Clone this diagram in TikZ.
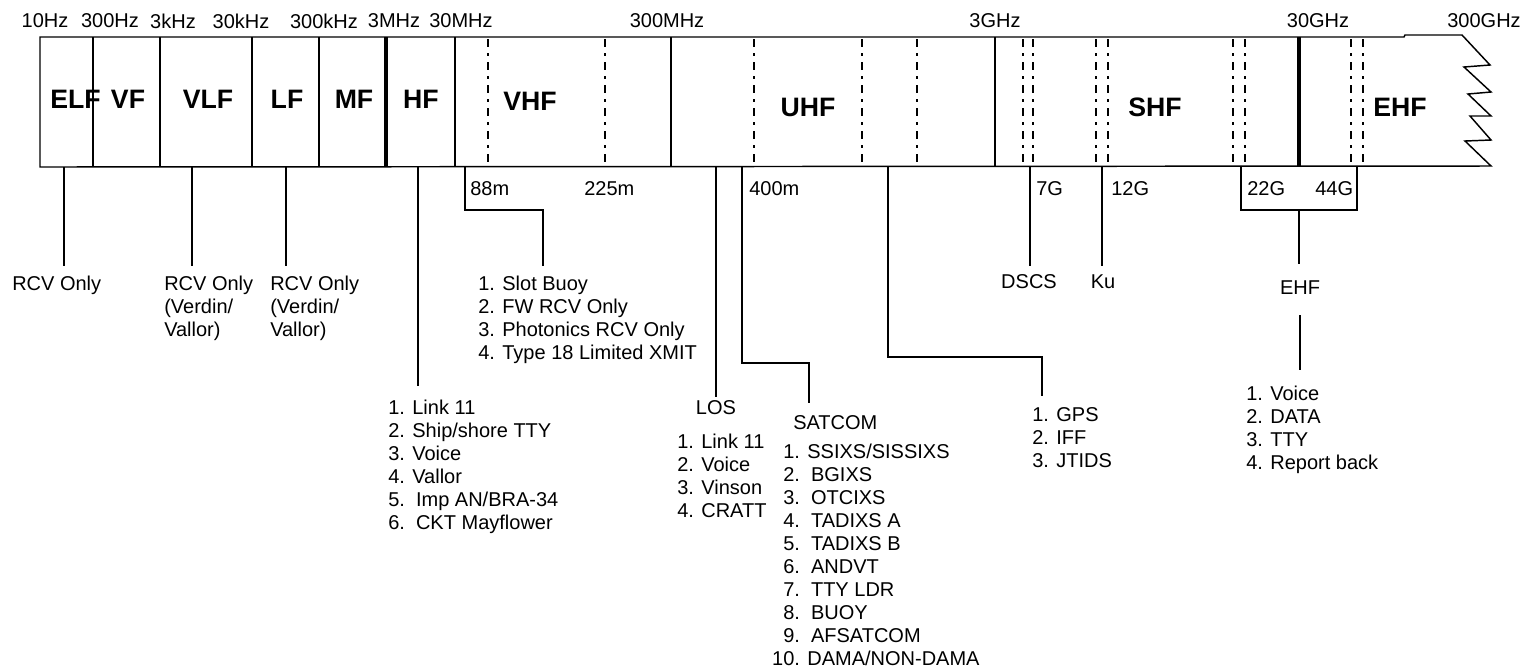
\documentclass[tikz,border=0pt]{standalone}
\usepackage{fontspec}
\setmainfont{Liberation Sans}
\tikzset{
  freqlabel/.style={font=\fontsize{15pt}{17.25pt}\selectfont, inner sep=0pt},
  bandlabel/.style={font=\fontsize{20pt}{24pt}\selectfont\bfseries, inner sep=0pt},
  uselist/.style={freqlabel, align=left, anchor=north west},
  wire/.style={line width=1.1pt},
  thickwire/.style={line width=2.3pt},
  dashcut/.style={line width=0.9pt, dash pattern=on 6pt off 4.5pt on 2.25pt off 4.5pt},
}
\begin{document}
\begin{tikzpicture}[x=0.75pt,y=0.75pt,yscale=-1,xscale=1]
\useasboundingbox (0,0) rectangle (1524,669);

%Shape: Spectrum band with open end
\draw[wire] (40,37) -- (1404,37) -- (1405,35) -- (1462,35) -- (1490,65) -- (1464,67) -- (1491,92) -- (1468,94) -- (1491,116) -- (1470,116) -- (1491,140) -- (1465,141) -- (1491,166) -- (40,167) -- cycle ;

% Band names
\node[bandlabel, anchor=west] (elf) at (50,99) {ELF};
\node[bandlabel] (vf) at (128,99) {VF};
\node[bandlabel] (vlf) at (208,99) {VLF};
\node[bandlabel] (lf) at (287,99) {LF};
\node[bandlabel] (mf) at (354,99) {MF};
\node[bandlabel] (hf) at (421,99) {HF};
\node[bandlabel] (vhf) at (530,101) {VHF};
\node[bandlabel] (uhf) at (808,107) {UHF};
\node[bandlabel] (shf) at (1155,107) {SHF};
\node[bandlabel] (ehf) at (1400,107) {EHF};

%Band dividers
\draw[wire] (93,37) -- (93,167) ;
\draw[wire] (160,37) -- (160,167) ;
\draw[wire] (252,37) -- (252,167) ;
\draw[wire] (319,37) -- (319,167) ;
\draw[thickwire] (386,37) -- (386,167) ;
\draw[wire] (455,37) -- (455,167) ;
\draw[wire] (671,37) -- (671,167) ;
\draw[wire] (995,37) -- (995,167) ;
\draw[thickwire] (1299,37) -- (1299,167) ;

%Sub-band dividers
\draw[dashcut] (488,39) -- (488,165) ;
\draw[dashcut] (605,39) -- (605,165) ;
\draw[dashcut] (754,39) -- (754,165) ;
\draw[dashcut] (862,39) -- (862,165) ;
\draw[dashcut] (917,39) -- (917,165) ;
\draw[dashcut] (1023,39) -- (1023,165) ;
\draw[dashcut] (1033,39) -- (1033,165) ;
\draw[dashcut] (1096,39) -- (1096,165) ;
\draw[dashcut] (1108,39) -- (1108,165) ;
\draw[dashcut] (1233,39) -- (1233,165) ;
\draw[dashcut] (1245,39) -- (1245,165) ;
\draw[dashcut] (1351,39) -- (1351,165) ;
\draw[dashcut] (1363,39) -- (1363,165) ;

% Frequency marks
\node[freqlabel] (hz10) at (45,21) {10Hz};
\node[freqlabel] (hz300) at (110,21) {300Hz};
\node[freqlabel] (khz3) at (173,21) {3kHz};
\node[freqlabel] (khz30) at (241,21) {30kHz};
\node[freqlabel] (khz300) at (324,21) {300kHz};
\node[freqlabel] (mhz3) at (394,21) {3MHz};
\node[freqlabel] (mhz30) at (461,21) {30MHz};
\node[freqlabel] (mhz300) at (667,21) {300MHz};
\node[freqlabel] (ghz3) at (995,21) {3GHz};
\node[freqlabel] (ghz30) at (1318,21) {30GHz};
\node[freqlabel] (ghz300) at (1484,21) {300GHz};

% Sub-band marks
\node[freqlabel, anchor=west] (m88) at (470,189) {88m};
\node[freqlabel, anchor=west] (m225) at (584,189) {225m};
\node[freqlabel, anchor=west] (m400) at (749,189) {400m};
\node[freqlabel, anchor=west] (g7) at (1036,189) {7G};
\node[freqlabel, anchor=west] (g12) at (1111,189) {12G};
\node[freqlabel, anchor=west] (g22) at (1247,189) {22G};
\node[freqlabel, anchor=west] (g44) at (1315,189) {44G};

% Tap points on the band
\coordinate (elfTap) at (64,167);
\coordinate (vlfTap) at (192,167);
\coordinate (lfTap) at (286,167);
\coordinate (hfTap) at (418,167);
\coordinate (vhfTap) at (465,167);
\coordinate (vhfKnee) at (543,210);
\coordinate (losTap) at (716,167);
\coordinate (satTap) at (742,167);
\coordinate (satKnee) at (809,363);
\coordinate (gpsTap) at (888,167);
\coordinate (gpsKnee) at (1042,357);
\coordinate (dscsTap) at (1030,167);
\coordinate (kuTap) at (1102,167);
\coordinate (ehfTapL) at (1241,167);
\coordinate (ehfKneeL) at (1241,210);
\coordinate (ehfKneeR) at (1357,210);
\coordinate (ehfTapR) at (1357,167);
\coordinate (ehfMid) at (1299,210);

% Uses per band
\node[uselist] (elfUse) at (12,276) {RCV Only};
\node[uselist] (vlfUse) at (164,276) {RCV Only\\(Verdin/\\Vallor)};
\node[uselist] (lfUse) at (270,276) {RCV Only\\(Verdin/\\Vallor)};
\node[uselist] (hfUse) at (388,400) {1. Link 11\\2. Ship/shore TTY\\3. Voice\\4. Vallor\\5.\ \ Imp AN/BRA-34\\6.\ \ CKT Mayflower};
\node[uselist] (vhfUse) at (478,276) {1. Slot Buoy\\2. FW RCV Only\\3. Photonics RCV Only\\4. Type 18 Limited XMIT};
\node[freqlabel] (losHead) at (716,408) {LOS};
\node[uselist] (losUse) at (677,434) {1. Link 11\\2. Voice\\3. Vinson\\4. CRATT};
\node[freqlabel, anchor=west] (satHead) at (793,423) {SATCOM};
\node[uselist] (satUse) at (783,444) {1. SSIXS/SISSIXS\\2.\ \ BGIXS\\3.\ \ OTCIXS\\4.\ \ TADIXS A\\5.\ \ TADIXS B\\6.\ \ ANDVT\\7.\ \ TTY LDR\\8.\ \ BUOY\\9.\ \ AFSATCOM\\\llap{1}0. DAMA/NON-DAMA};
\node[uselist] (gpsUse) at (1032,407) {1. GPS\\2. IFF\\3. JTIDS};
\node[freqlabel] (dscsHead) at (1029,282) {DSCS};
\node[freqlabel] (kuHead) at (1103,282) {Ku};
\node[freqlabel] (ehfHead) at (1300,288) {EHF};
\node[uselist] (ehfUse) at (1246,386) {1. Voice\\2. DATA\\3. TTY\\4. Report back};

% Connectors
\draw[wire, shorten >=7.5pt] (elfTap) -- (elfTap |- elfUse.north) ;
\draw[wire, shorten >=7.5pt] (vlfTap) -- (vlfTap |- vlfUse.north) ;
\draw[wire, shorten >=7.5pt] (lfTap) -- (lfTap |- lfUse.north) ;
\draw[wire, shorten >=10.5pt] (hfTap) -- (hfTap |- hfUse.north) ;
\draw[wire, shorten >=7.5pt] (vhfTap) |- (vhfKnee) -- (vhfKnee |- vhfUse.north) ;
\draw[wire, shorten >=3pt] (losTap) -- (losTap |- losHead.north) ;
\draw[wire, shorten >=9.75pt] (satTap) |- (satKnee) -- (satKnee |- satHead.north) ;
\draw[wire, shorten >=8.25pt] (gpsTap) |- (gpsKnee) -- (gpsKnee |- gpsUse.north) ;
\draw[wire, shorten >=6.75pt] (dscsTap) -- (dscsTap |- dscsHead.north) ;
\draw[wire, shorten >=6.75pt] (kuTap) -- (kuTap |- kuHead.north) ;
\draw[wire] (ehfTapL) -- (ehfKneeL) -- (ehfKneeR) -- (ehfTapR) ;
\draw[wire, shorten >=12.75pt] (ehfMid) -- (ehfMid |- ehfHead.north) ;
\draw[wire, shorten <=15pt, shorten >=12pt] (ehfHead.south) -- (ehfHead.south |- ehfUse.north) ;
\end{tikzpicture}
\end{document}
